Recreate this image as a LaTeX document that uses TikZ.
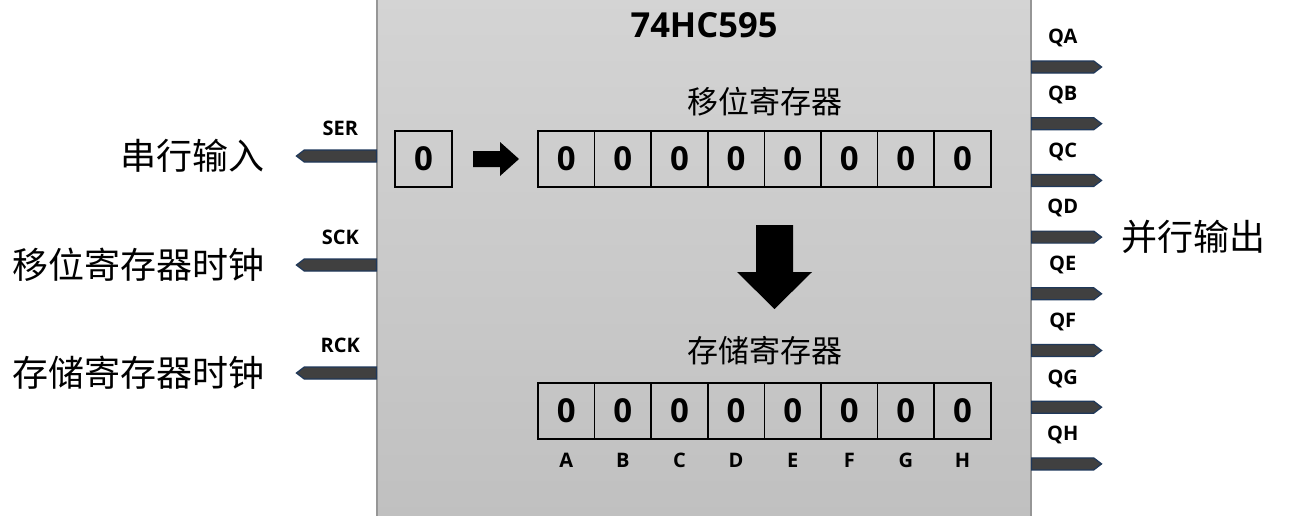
\documentclass[tikz,border=0pt]{standalone}
\usepackage{fontspec}
\setmainfont{Noto Sans CJK SC}
\newfontfamily\latinfont{Open Sans}
\usetikzlibrary{shapes.symbols, positioning}
\definecolor{chiptop}{RGB}{212,212,212}
\definecolor{chipbot}{RGB}{192,192,192}
\definecolor{chipedge}{RGB}{150,150,150}
\definecolor{pindark}{RGB}{64,64,64}
\definecolor{pinblue}{RGB}{31,56,90}
\tikzset{
  chip/.style={rectangle, draw=chipedge, line width=1.2pt, top color=chiptop,
    bottom color=chipbot, minimum width=654pt, minimum height=525pt, inner sep=0pt},
  chiptitle/.style={inner sep=0pt, font=\latinfont\bfseries\fontsize{34.5}{38}\selectfont},
  cell/.style={rectangle, draw, line width=1.6pt, minimum width=56.6pt,
    minimum height=56pt, inner sep=0pt, font=\latinfont\bfseries\fontsize{33}{36}\selectfont},
  pinL/.style={signal, signal to=west, signal pointer angle=75, draw=pinblue,
    fill=pindark, line width=1.2pt, minimum width=80pt, minimum height=12pt, inner sep=0pt},
  pinR/.style={pinL, signal to=east, minimum width=70pt},
  pinname/.style={inner sep=0pt, font=\latinfont\bfseries\fontsize{20}{22}\selectfont},
  bitname/.style={inner sep=0pt, font=\latinfont\bfseries\fontsize{20}{22}\selectfont},
  cnlabel/.style={inner sep=0pt, font=\fontsize{36}{40}\selectfont},
  reglabel/.style={inner sep=0pt, font=\fontsize{31}{36}\selectfont},
  blockarrow/.style={fill=black, draw=none}
}

\begin{document}
\begin{tikzpicture}[x=1pt, y=-1pt]
  \useasboundingbox (0,0) rectangle (1295,515);

  % Chip body (runs off the bottom edge)
  \node[chip] (chip) at (704,257.5) {};
  \node[chiptitle, below=18pt of chip.north] (title) {74HC595};

  % Input pins
  \foreach \p/\n/\y/\t in {ser/SER/156/串行输入, sck/SCK/265/移位寄存器时钟, rck/RCK/373/存储寄存器时钟} {
    \node[pinL, anchor=east] (\p) at (377,\y) {};
    \node[pinname, above=14pt of \p] (\p-name) {\n};
    \node[cnlabel, left=31pt of \p] (\p-text) {\t};
  }

  % Output pins
  \foreach \n [count=\i] in {A,B,C,D,E,F,G,H} {
    \node[pinR, anchor=west] (q\n) at (1031,{67+56.7*(\i-1)}) {};
    \node[pinname, above=13pt of q\n] (q\n-name) {Q\n};
  }
  \node[cnlabel, right=19pt of qD] (out-text) {并行输出};

  % Serial input bit
  \node[cell] (bit) at (423.5,159) {0};
  \coordinate (shift-arrow) at (473,159);
  \fill[blockarrow] (shift-arrow) ++(0,-8) -- ++(27,0) -- ++(0,-9) -- ++(19,17)
    -- ++(-19,17) -- ++(0,-9) -- ++(-27,0) -- cycle;

  % Shift register and storage register
  \foreach \i in {1,...,8} {
    \node[cell] (s\i) at ({538+56.6*(\i-0.5)},159) {0};
    \node[cell] (r\i) at ({538+56.6*(\i-0.5)},411) {0};
  }
  \node[reglabel, above=14pt of s4.north east] (s-label) {移位寄存器};
  \node[reglabel, above=17pt of r4.north east] (r-label) {存储寄存器};

  \coordinate (latch-arrow) at (774.5,225);
  \fill[blockarrow] (latch-arrow) ++(-18.5,0) -- ++(37,0) -- ++(0,47) -- ++(19,0)
    -- ++(-37.5,37) -- ++(-37.5,-37) -- ++(19,0) -- cycle;

  \foreach \l [count=\i] in {A,B,C,D,E,F,G,H}
    \node[bitname, below=13pt of r\i] (b\l) {\l};
\end{tikzpicture}
\end{document}
